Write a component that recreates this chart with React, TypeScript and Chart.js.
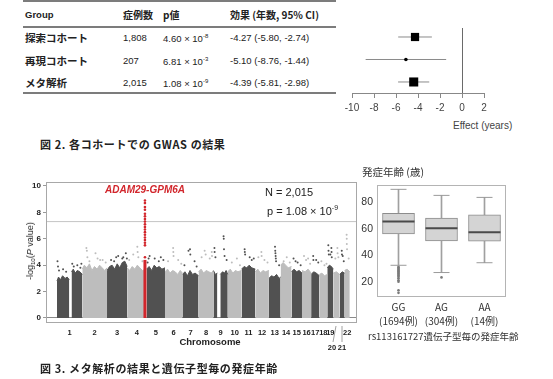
import React, { useEffect, useRef } from 'react';
import { Chart, registerables } from 'chart.js';

Chart.register(...registerables);

// ---------- Table + forest plot data ----------
const groups = ['探索コホート', '再現コホート', 'メタ解析'];
const nCases = ['1,808', '207', '2,015'];
const pMantissa = ['4.60', '6.81', '1.08'];
const pExponent = ['-8', '-3', '-9'];
const effect = [-4.27, -5.1, -4.39];
const ciLow = [-5.8, -8.76, -5.81];
const ciHigh = [-2.74, -1.44, -2.98];
const markerRadius = [5.8, 1.8, 6.4];
const markerStyle = ['rect', 'circle', 'rect'];

// ---------- Manhattan plot data ----------
const chromLabels = ['1', '2', '3', '4', '5', '6', '7', '8', '9', '10', '11', '12', '13', '14', '15', '16', '17', '18', '19', '20', '21', '22'];
const chromLengthMb = [249, 243, 198, 191, 181, 171, 159, 146, 141, 136, 135, 134, 115, 107, 103, 90, 81, 78, 59, 63, 48, 51];
// body top profile per chromosome: [position Mb, -log10 P]
const chromProfiles: (number | null)[][][] = [
  [[0, 2.8], [15, 3.1], [35, 2.9], [55, 3.2], [80, 3.0], [100, 3.1], [121, 2.9], [122, null], [143, 3.5], [160, 3.7], [180, 3.4], [200, 3.6], [225, 3.5], [249, 3.3]],
  [[0, 3.7], [20, 4.0], [45, 3.8], [70, 4.1], [95, 3.6], [120, 3.9], [145, 3.7], [170, 4.0], [195, 3.8], [220, 3.6], [243, 3.8]],
  [[0, 3.6], [25, 3.9], [50, 4.0], [75, 3.7], [100, 4.1], [125, 3.8], [150, 4.2], [175, 4.3], [198, 3.9]],
  [[0, 3.8], [25, 3.6], [50, 3.9], [75, 3.7], [100, 4.0], [125, 3.8], [150, 3.6], [191, 3.7]],
  [[0, 3.7], [25, 3.9], [50, 3.6], [75, 4.0], [100, 3.8], [125, 3.9], [150, 3.7], [181, 3.8]],
  [[0, 3.5], [25, 3.7], [50, 3.4], [75, 3.6], [100, 3.5], [125, 3.3], [150, 3.6], [171, 3.4]],
  [[0, 3.3], [25, 3.5], [50, 3.2], [75, 3.6], [100, 3.3], [125, 3.4], [159, 3.2]],
  [[0, 3.5], [25, 3.7], [50, 3.4], [75, 3.6], [100, 3.5], [125, 3.4], [146, 3.6]],
  [[0, 3.6], [20, 3.3], [39, 3.4], [40, null], [68, 3.3], [90, 3.5], [110, 3.4], [125, 3.6], [141, 3.3]],
  [[0, 3.5], [25, 3.7], [50, 3.4], [75, 3.6], [100, 3.5], [136, 3.6]],
  [[0, 3.7], [25, 3.9], [50, 3.8], [75, 4.0], [100, 3.8], [135, 3.7]],
  [[0, 3.5], [25, 3.7], [50, 3.4], [75, 3.6], [100, 3.5], [134, 3.6]],
  [[0, 3.0], [25, 3.2], [50, 3.1], [75, 3.3], [100, 3.0], [115, 3.1]],
  [[0, 4.0], [25, 4.2], [50, 4.0], [75, 3.8], [107, 3.9]],
  [[0, 3.5], [25, 3.7], [50, 3.5], [75, 3.6], [103, 3.4]],
  [[0, 3.6], [30, 3.5], [60, 3.7], [90, 3.4]],
  [[0, 3.3], [25, 3.5], [50, 3.4], [81, 3.2]],
  [[0, 3.3], [25, 3.4], [50, 3.2], [78, 3.3]],
  [[0, 3.8], [20, 4.0], [40, 3.9], [59, 3.7]],
  [[0, 3.4], [30, 3.5], [63, 3.3]],
  [[0, 3.3], [25, 3.5], [48, 3.4]],
  [[0, 3.6], [25, 3.7], [51, 3.5]],
];
// scattered points above the body: [position Mb, -log10 P]
const chromSpikes: number[][][] = [
  [[5, 4.3], [10, 3.9], [20, 3.6], [60, 3.7], [90, 3.5], [150, 4.1], [165, 3.9], [200, 4.0], [230, 3.8], [240, 4.1]],
  [[40, 5.3], [45, 5.1], [50, 4.6], [70, 4.3], [130, 4.9], [150, 4.5], [175, 4.4], [200, 4.4], [230, 4.2]],
  [[40, 4.4], [70, 4.3], [90, 4.6], [110, 4.7], [150, 4.5], [160, 4.6], [185, 4.9], [195, 4.5]],
  [[20, 4.4], [60, 4.8], [100, 5.4], [103, 5.0], [110, 4.6], [150, 4.3]],
  [[10, 4.2], [20, 4.5], [30, 4.7], [80, 4.5], [120, 4.3], [140, 4.6], [165, 4.4]],
  [[30, 4.3], [80, 5.3], [82, 5.0], [84, 4.7], [130, 4.4], [160, 4.1]],
  [[20, 4.0], [60, 5.1], [75, 5.2], [78, 4.8], [120, 4.3], [140, 3.9]],
  [[30, 4.6], [60, 5.1], [70, 4.8], [110, 4.5], [130, 5.0], [132, 4.7]],
  [[10, 5.3], [12, 5.0], [20, 4.6], [100, 6.2], [102, 6.0], [104, 5.2], [110, 4.7], [130, 4.4]],
  [[40, 4.2], [90, 4.5], [120, 4.0]],
  [[30, 5.2], [32, 5.0], [35, 4.8], [80, 4.6], [100, 4.4], [120, 4.5]],
  [[30, 4.6], [60, 5.0], [62, 4.7], [90, 4.4], [120, 4.2]],
  [[60, 5.4], [62, 5.1], [64, 4.9], [66, 4.7], [68, 4.5], [70, 4.3], [100, 4.0]],
  [[30, 4.3], [60, 4.6], [90, 4.2]],
  [[20, 4.5], [40, 4.3], [60, 4.2], [90, 4.0]],
  [[20, 4.7], [40, 4.4], [60, 4.5], [80, 4.1]],
  [[20, 4.7], [22, 4.4], [50, 4.4], [70, 4.2]],
  [[20, 4.3], [50, 4.0], [70, 4.1]],
  [[10, 5.5], [12, 5.1], [15, 4.8], [30, 4.8], [40, 5.3], [42, 5.0], [44, 4.6]],
  [[20, 4.5], [40, 5.3], [42, 4.9], [50, 4.6]],
  [[20, 5.1], [22, 4.8], [30, 4.7], [40, 4.3]],
  [[20, 6.3], [21, 6.0], [22, 5.6], [24, 5.2], [40, 4.5]],
];
const leadChrom = 3; // chromosome 4
const leadPosMb = 175;
const leadBodyTop = 4.4;
const leadSignal = [8.9, 8.7, 8.4, 8.2, 7.9, 7.7, 7.5, 7.3, 7.1, 6.9, 6.7, 6.5, 6.3, 6.1, 5.9, 5.7, 5.5, 4.6];
const genomeWideLine = 7.3;
const manXMin = -108;
const manXMax = 2950;
const belowAxisLabels = ['20', '21'];

// ---------- Box plot data ----------
const genotypes = ['GG', 'AG', 'AA'];
const genotypeCounts = ['(1694例)', '(304例)', '(14例)'];
const boxMin = [32.8, 27.4, 34.7];
const boxQ1 = [56.1, 51.0, 50.8];
const boxMedian = [65.3, 60.4, 57.3];
const boxQ3 = [71.5, 67.9, 70.3];
const boxMax = [89.3, 84.8, 83.3];
const outliersGG = [31.6, 30.9, 30.2, 29.5, 28.8, 28.1, 27.3, 26.6, 25.8, 25.1, 24.3, 23.2, 21.6, 20.6, 14.2, 12.3];
const outliersAG = [23.8];

const SANS = "'Liberation Sans', 'Noto Sans CJK JP', sans-serif";
const CJK = "'Noto Sans CJK JP', 'Liberation Sans', sans-serif";

const DARK = '#515151';
const LIGHT = '#bdbdbd';
const RED = '#d2262c';

function framePlugin(color: string) {
  return {
    id: 'frame',
    afterDraw(chart: any) {
      const { ctx, chartArea: a } = chart;
      ctx.save();
      ctx.strokeStyle = color;
      ctx.lineWidth = 1;
      ctx.strokeRect(Math.round(a.left) + 0.5, Math.round(a.top) + 0.5, Math.round(a.right - a.left) - 1, Math.round(a.bottom - a.top) - 1);
      ctx.restore();
    },
  };
}

function Txt(props: { x: number; y: number; children: any; style?: any; center?: boolean }) {
  return (
    <div
      style={{
        position: 'absolute',
        left: props.x,
        top: props.y,
        transform: props.center ? 'translate(-50%, -50%)' : 'translateY(-50%)',
        whiteSpace: 'nowrap',
        lineHeight: 1,
        ...(props.style || {}),
      }}
    >
      {props.children}
    </div>
  );
}

export default function App() {
  const forestRef = useRef<HTMLCanvasElement>(null);
  const manRef = useRef<HTMLCanvasElement>(null);
  const boxRef = useRef<HTMLCanvasElement>(null);

  useEffect(() => {
    const charts: Chart[] = [];

    // ---------- Forest ----------
    const forestDatasets: any[] = effect.map((_, i) => ({
      type: 'line',
      data: [{ x: ciLow[i], y: i + 1 }, { x: ciHigh[i], y: i + 1 }],
      borderColor: '#8a8a8a',
      borderWidth: 1,
      pointRadius: 0,
    }));
    forestDatasets.unshift({
      type: 'scatter',
      data: effect.map((e, i) => ({ x: e, y: i + 1 })),
      pointStyle: markerStyle,
      pointRadius: markerRadius,
      backgroundColor: '#000',
      borderColor: '#000',
      borderWidth: 0,
    });
    charts.push(
      new Chart(forestRef.current!, {
        type: 'scatter',
        data: { datasets: forestDatasets },
        options: {
          animation: false,
          responsive: false,
          events: [],
          layout: { padding: { left: 12, right: 56, top: 8, bottom: 0 }, autoPadding: false } as any,
          plugins: { legend: { display: false }, tooltip: { enabled: false } },
          scales: {
            x: {
              type: 'linear',
              min: -10,
              max: 2,
              ticks: { stepSize: 2, color: '#444', font: { family: SANS, size: 10 }, padding: 4 },
              grid: {
                drawOnChartArea: true,
                color: (c: any) => (c.tick && c.tick.value === 0 ? '#6a6a6a' : 'rgba(0,0,0,0)'),
                tickColor: '#888',
                tickLength: 5,
              },
              border: { color: '#888' },
              afterFit: (s: any) => { s.height = 27; },
            },
            y: { type: 'linear', display: false, min: 0.6, max: 3.49, reverse: true },
          },
        } as any,
      })
    );

    // ---------- Manhattan ----------
    const starts: number[] = [];
    let acc = 0;
    chromLengthMb.forEach((l) => { starts.push(acc); acc += l; });
    const centers = chromLengthMb.map((l, i) => starts[i] + l / 2);
    const tickLabels: string[] = chromLabels.map((l) => (belowAxisLabels.includes(l) ? '' : l));

    const manDatasets: any[] = [];
    chromProfiles.forEach((prof, i) => {
      const col = i % 2 === 0 ? DARK : LIGHT;
      manDatasets.push({
        type: 'line',
        data: prof.map(([m, v]) => ({ x: starts[i] + (m as number), y: v })),
        fill: 'origin',
        backgroundColor: col,
        borderColor: col,
        borderWidth: 1,
        pointRadius: 0,
        spanGaps: false,
        order: 5,
      });
    });
    chromSpikes.forEach((pts, i) => {
      const col = i % 2 === 0 ? DARK : LIGHT;
      manDatasets.push({
        type: 'scatter',
        data: pts.map(([m, v]) => ({ x: starts[i] + m, y: v })),
        pointRadius: 1,
        backgroundColor: col,
        borderWidth: 0,
        order: 4,
      });
    });
    manDatasets.push({
      type: 'line',
      data: [{ x: manXMin, y: genomeWideLine }, { x: manXMax, y: genomeWideLine }],
      borderColor: '#c4c4c4',
      borderWidth: 1,
      pointRadius: 0,
      order: 3,
    });
    const leadX = starts[leadChrom] + leadPosMb;
    manDatasets.push({
      type: 'line',
      data: [{ x: leadX, y: 0 }, { x: leadX, y: leadBodyTop }],
      borderColor: RED,
      borderWidth: 3,
      pointRadius: 0,
      order: 1,
    });
    manDatasets.push({
      type: 'scatter',
      data: leadSignal.map((v) => ({ x: leadX, y: v })),
      pointRadius: 1.3,
      backgroundColor: RED,
      borderWidth: 0,
      order: 1,
    });

    charts.push(
      new Chart(manRef.current!, {
        type: 'scatter',
        data: { datasets: manDatasets },
        options: {
          animation: false,
          responsive: false,
          events: [],
          layout: { padding: { left: 16, right: 5, top: 7, bottom: 0 }, autoPadding: false } as any,
          plugins: { legend: { display: false }, tooltip: { enabled: false } },
          scales: {
            x: {
              type: 'linear',
              min: manXMin,
              max: manXMax,
              afterBuildTicks: (axis: any) => { axis.ticks = centers.map((v) => ({ value: v })); },
              ticks: {
                autoSkip: false,
                maxRotation: 0,
                minRotation: 0,
                padding: 5,
                color: '#222',
                font: { family: SANS, size: 7.5, weight: 'bold' },
                callback: (_v: any, idx: number) => tickLabels[idx],
              },
              grid: { display: false, drawTicks: false, tickLength: 0 },
              border: { display: false },
              afterFit: (s: any) => { s.height = 32; s.paddingLeft = 0; s.paddingRight = 0; },
            },
            y: {
              type: 'linear',
              min: -0.38,
              max: 10.3,
              ticks: { stepSize: 2, includeBounds: false, padding: 2, color: '#222', font: { family: SANS, size: 8, weight: 'bold' } },
              grid: {
                drawOnChartArea: true,
                color: (c: any) => (c.tick && c.tick.value === 0 ? '#8a8a8a' : 'rgba(0,0,0,0)'),
                tickColor: '#999',
                tickLength: 3,
              },
              border: { display: false },
              afterFit: (s: any) => { s.width = 30; },
            },
          },
        } as any,
        plugins: [framePlugin('#a8a8a8')],
      })
    );

    // ---------- Box plot ----------
    const outlierData = [
      ...outliersGG.map((v) => ({ x: genotypes[0], y: v })),
      ...outliersAG.map((v) => ({ x: genotypes[1], y: v })),
    ];
    charts.push(
      new Chart(boxRef.current!, {
        type: 'bar',
        data: {
          labels: genotypes,
          datasets: [
            { type: 'line', data: boxMedian, showLine: false, pointStyle: 'line', pointRadius: 16, pointBorderWidth: 2, borderColor: '#4a4a4a', order: 1 },
            { type: 'line', data: boxMax, showLine: false, pointStyle: 'line', pointRadius: 8, pointBorderWidth: 1, borderColor: '#9a9a9a', order: 2 },
            { type: 'line', data: boxMin, showLine: false, pointStyle: 'line', pointRadius: 8, pointBorderWidth: 1, borderColor: '#9a9a9a', order: 2 },
            { type: 'line', data: outlierData, showLine: false, pointStyle: 'circle', pointRadius: 1.3, backgroundColor: '#7a7a7a', borderColor: '#7a7a7a', pointBorderWidth: 0, order: 2 },
            { type: 'bar', data: boxQ1.map((q, i) => [q, boxQ3[i]]), backgroundColor: '#d4d4d4', borderColor: '#8c8c8c', borderWidth: 1, borderSkipped: false, barThickness: 32, grouped: false, order: 3 },
            { type: 'bar', data: boxMin.map((m, i) => [m, boxQ1[i]]), backgroundColor: '#a0a0a0', borderWidth: 0, barThickness: 1, grouped: false, order: 4 },
            { type: 'bar', data: boxQ3.map((q, i) => [q, boxMax[i]]), backgroundColor: '#a0a0a0', borderWidth: 0, barThickness: 1, grouped: false, order: 4 },
          ] as any,
        },
        options: {
          animation: false,
          responsive: false,
          events: [],
          layout: { padding: { left: 0, right: 47, top: 7, bottom: 0 }, autoPadding: false } as any,
          plugins: { legend: { display: false }, tooltip: { enabled: false } },
          scales: {
            x: {
              ticks: {
                padding: 3,
                maxRotation: 0,
                minRotation: 0,
                autoSkip: false,
                color: '#333',
                font: { family: CJK, size: 10, lineHeight: 1.4 },
                callback: (_v: any, idx: number) => [genotypes[idx], genotypeCounts[idx]],
              },
              grid: { display: false, drawTicks: false, tickLength: 0 },
              border: { display: false },
              afterFit: (s: any) => { s.height = 48; s.paddingLeft = 0; s.paddingRight = 0; },
            },
            y: {
              type: 'linear',
              min: 9.2,
              max: 92.3,
              ticks: { stepSize: 20, includeBounds: false, padding: 4, color: '#333', font: { family: SANS, size: 10.5 } },
              grid: { display: false, drawTicks: false, tickLength: 0 },
              border: { display: false },
              afterFit: (s: any) => { s.width = 22; },
            },
          },
        } as any,
        plugins: [framePlugin('#b4b4b4')],
      })
    );

    return () => charts.forEach((c) => c.destroy());
  }, []);

  const tableText = { fontFamily: CJK, fontSize: 10, color: '#222' };
  const bold = { fontWeight: 700 };
  const rowY = [38, 61, 83];

  return (
    <div style={{ position: 'absolute', left: 0, top: 0, width: 553, height: 379, background: '#fff', overflow: 'hidden', fontFamily: SANS }}>
      {/* Table rules */}
      {[1, 27, 93].map((y) => (
        <div key={y} style={{ position: 'absolute', left: 23, top: y - 0.75, width: 313, height: 1.5, background: '#7c7c7c' }} />
      ))}
      <Txt x={25} y={15} style={{ ...tableText, ...bold, fontFamily: SANS, fontSize: 9.5 }}>Group</Txt>
      <Txt x={123} y={15} style={{ ...tableText, ...bold }}>症例数</Txt>
      <Txt x={163} y={15} style={{ ...tableText, ...bold }}>p値</Txt>
      <Txt x={230} y={15} style={{ ...tableText, ...bold }}>効果 (年数, 95% CI)</Txt>
      {groups.map((g, i) => (
        <React.Fragment key={g}>
          <Txt x={25} y={rowY[i]} style={{ ...tableText, ...bold, fontSize: 10.5 }}>{g}</Txt>
          <Txt x={123} y={rowY[i]} style={{ ...tableText, fontFamily: SANS, fontSize: 9.5 }}>{nCases[i]}</Txt>
          <Txt x={163} y={rowY[i]} style={{ ...tableText, fontFamily: SANS, fontSize: 9.5 }}>
            {pMantissa[i]} × 10<sup style={{ fontSize: 6, verticalAlign: 4 }}>{pExponent[i]}</sup>
          </Txt>
          <Txt x={230} y={rowY[i]} style={{ ...tableText, fontFamily: SANS, fontSize: 9.5 }}>
            {`${effect[i].toFixed(2)} (${ciLow[i].toFixed(2)}, ${ciHigh[i].toFixed(2)})`}
          </Txt>
        </React.Fragment>
      ))}

      <canvas ref={forestRef} width={200} height={100} style={{ position: 'absolute', left: 340, top: 20, width: 200, height: 100 }} />
      <Txt x={453} y={126} style={{ fontFamily: SANS, fontSize: 10, color: '#444' }}>Effect (years)</Txt>

      <Txt x={40} y={144} style={{ fontFamily: CJK, fontSize: 11, fontWeight: 700, color: '#222', letterSpacing: 0.6 }}>図 2. 各コホートでの GWAS の結果</Txt>

      {/* Manhattan */}
      <canvas ref={manRef} width={362} height={180} style={{ position: 'absolute', left: 0, top: 175, width: 362, height: 180 }} />
      <Txt x={31} y={251} center style={{ fontFamily: SANS, fontSize: 9, color: '#222', transform: 'translate(-50%, -50%) rotate(-90deg)' }}>
        -log<sub style={{ fontSize: 6, verticalAlign: -2 }}>10</sub>(<i>P</i> value)
      </Txt>
      <Txt x={145} y={190} center style={{ fontFamily: SANS, fontSize: 10, fontWeight: 700, fontStyle: 'italic', color: RED }}>ADAM29-GPM6A</Txt>
      <Txt x={265} y={192} style={{ fontFamily: SANS, fontSize: 11, color: '#222' }}>N = 2,015</Txt>
      <Txt x={267} y={210} style={{ fontFamily: SANS, fontSize: 11, color: '#222' }}>
        p = 1.08 × 10<sup style={{ fontSize: 7, verticalAlign: 5 }}>-9</sup>
      </Txt>
      <Txt x={210} y={342} center style={{ fontFamily: SANS, fontSize: 9.5, fontWeight: 700, color: '#222' }}>Chromosome</Txt>
      <Txt x={332} y={348} center style={{ fontFamily: SANS, fontSize: 7.5, fontWeight: 700, color: '#222' }}>{belowAxisLabels[0]}</Txt>
      <Txt x={342} y={348} center style={{ fontFamily: SANS, fontSize: 7.5, fontWeight: 700, color: '#222' }}>{belowAxisLabels[1]}</Txt>
      <svg width={553} height={379} style={{ position: 'absolute', left: 0, top: 0, pointerEvents: 'none' }}>
        <line x1={336} y1={326} x2={333} y2={342} stroke="#888" strokeWidth={0.8} />
        <line x1={342} y1={326} x2={342} y2={342} stroke="#888" strokeWidth={0.8} />
      </svg>

      {/* Box plot */}
      <canvas ref={boxRef} width={198} height={170} style={{ position: 'absolute', left: 355, top: 175, width: 198, height: 170 }} />
      <Txt x={362} y={172} style={{ fontFamily: CJK, fontSize: 10.5, color: '#333' }}>発症年齢 (歳)</Txt>
      <Txt x={368} y={337} style={{ fontFamily: CJK, fontSize: 9.5, color: '#333' }}>rs113161727遺伝子型毎の発症年齢</Txt>

      <Txt x={40} y={368} style={{ fontFamily: CJK, fontSize: 11, fontWeight: 700, color: '#222', letterSpacing: 0.6 }}>図 3. メタ解析の結果と遺伝子型毎の発症年齢</Txt>
    </div>
  );
}
